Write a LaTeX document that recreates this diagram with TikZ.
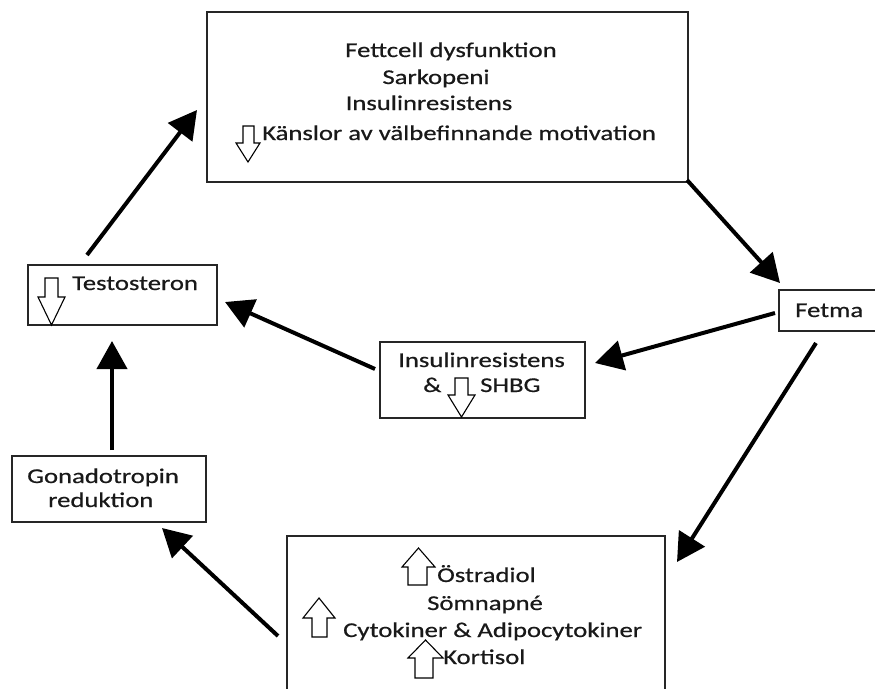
\documentclass[tikz,border=0pt]{standalone}
\usepackage{fontspec}
\setmainfont{Carlito}[FakeStretch=1.27, FakeBold=0.6]
\usetikzlibrary{arrows.meta}
\tikzset{
  box/.style={draw=black!85, line width=1.3pt, minimum width=#1, inner sep=0pt},
  lbl/.style={anchor=base west, inner sep=0pt, font=\fontsize{21}{25}\selectfont, text=black!90},
  conn/.style={line width=4pt, -{Triangle[length=28pt,width=30pt]}},
  hollow/.style={draw=black, line width=1.1pt, fill=white, line join=miter}
}
\newcommand{\blockarrow}[7]{\draw[hollow] (#3,#5) -- (#4,#5) -- (#4,#6) -- (#2,#6) -- ({(#1+#2)/2},#7) -- (#1,#6) -- (#3,#6) -- cycle;}
\begin{document}
\begin{tikzpicture}[x=1pt,y=-1pt]
\useasboundingbox (0,0) rectangle (875,688);
% boxes
\node[box=481pt, minimum height=170pt] (top) at (447.5,97) {};
\node[box=189pt, minimum height=60pt] (test) at (122.5,295) {};
\node[box=100pt, minimum height=41pt] (fet) at (829,310.5) {};
\node[box=205pt, minimum height=76pt] (ins) at (482.5,380) {};
\node[box=194pt, minimum height=66pt] (gon) at (109,489) {};
\node[box=378pt, minimum height=170pt] (bot) at (476,621) {};
% texts
\node[lbl, anchor=base] (t1) at (451,57) {Fettcell dysfunktion};
\node[lbl, anchor=base] (t2) at (436,84) {Sarkopeni};
\node[lbl, anchor=base] (t3) at (429,110) {Insulinresistens};
\node[lbl] (t4) at (262,140) {Känslor av välbefinnande motivation};
\node[lbl] (tt) at (72,290) {Testosteron};
\node[lbl] (tf) at (795,317) {Fetma};
\node[lbl] (ti1) at (398,367) {Insulinresistens};
\node[lbl] (ti2) at (423,392) {\&};
\node[lbl] (ti3) at (480,392) {SHBG};
\node[lbl] (tg1) at (27,483) {Gonadotropin};
\node[lbl] (tg2) at (48,507) {reduktion};
\node[lbl] (tb1) at (437,582) {Östradiol};
\node[lbl] (tb2) at (427,610) {Sömnapné};
\node[lbl] (tb3) at (343,637) {Cytokiner \& Adipocytokiner};
\node[lbl] (tb4) at (443,664) {Kortisol};
% hollow block arrows
\blockarrow{236}{260}{243}{254}{126}{143}{162}
\blockarrow{38}{65}{45}{58}{278}{297}{325}
\blockarrow{448}{475}{455}{468}{378}{395}{417}
\blockarrow{402}{435}{408}{427}{585}{567}{548}
\blockarrow{303}{335}{312}{327}{637}{618}{598}
\blockarrow{408}{443}{415}{433}{678}{658}{640}
% connector end points
\coordinate (a1s) at (87,255);  \coordinate (a1e) at (197,110);
\coordinate (a2s) at (687,180); \coordinate (a2e) at (780,283);
\coordinate (a3s) at (775,313); \coordinate (a3e) at (595,363);
\coordinate (a4s) at (375,369); \coordinate (a4e) at (225,302);
\coordinate (a5s) at (816,343); \coordinate (a5e) at (677,562);
\coordinate (a6s) at (278,636); \coordinate (a6e) at (162,528);
\coordinate (a7s) at (112,450); \coordinate (a7e) at (112,341);
\draw[conn] (a1s) -- (a1e);
\draw[conn] (a2s) -- (a2e);
\draw[conn] (a3s) -- (a3e);
\draw[conn] (a4s) -- (a4e);
\draw[conn] (a5s) -- (a5e);
\draw[conn] (a6s) -- (a6e);
\draw[conn] (a7s) -- (a7e);
\end{tikzpicture}
\end{document}
